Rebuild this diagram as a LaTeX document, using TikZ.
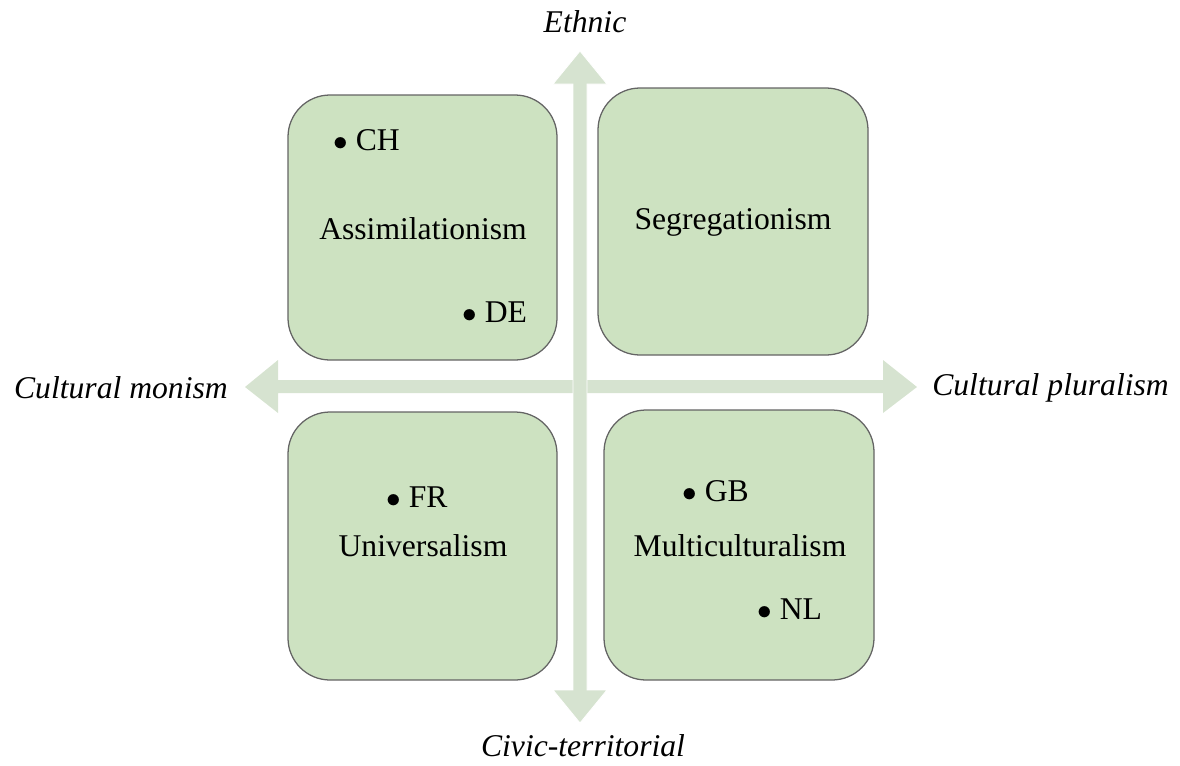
\documentclass[tikz,border=0pt]{standalone}
\usepackage{fontspec}
\setmainfont{Liberation Serif}
\usepackage{tikz}
\usetikzlibrary{calc}

\definecolor{boxgreen}{RGB}{205,226,193}
\definecolor{axisgreen}{RGB}{214,227,208}
\definecolor{boxline}{RGB}{100,100,100}

\tikzset{
    box/.style={draw=boxline, line width=0.9pt, fill=boxgreen, rounded corners=1.05cm},
    axisarrow/.style={fill=axisgreen, draw=white, line width=0.6pt},
    lbl/.style={font=\fontsize{22.5}{27}\selectfont, inner sep=0pt},
    axlbl/.style={lbl, font=\fontsize{22.5}{27}\selectfont\itshape}
}

\begin{document}
\begin{tikzpicture}[x=0.025cm, y=-0.025cm]
    \useasboundingbox (0,0) rectangle (1180,765);

    % asse orizzontale
    \fill[axisgreen] (278,380) -- (883,380) -- (883,360) -- (917,387) -- (883,413)
        -- (883,393) -- (278,393) -- (278,413) -- (245,387) -- (278,360) -- cycle;

    % asse verticale
    \draw[axisarrow] (573,84) -- (553,84) -- (580,51) -- (607,84) -- (587,84)
        -- (587,690) -- (607,690) -- (580,723) -- (553,690) -- (573,690) -- cycle;

    % riquadri
    \draw[box] (288,95) rectangle (557,360);
    \draw[box] (598,88) rectangle (868,355);
    \draw[box] (288,412) rectangle (557,680);
    \draw[box] (604,410) rectangle (874,680);

    % etichette degli assi
    \node[axlbl] (ethnic) at (585,22) {Ethnic};
    \node[axlbl, anchor=east] (monism) at (228,388) {Cultural monism};
    \node[axlbl, anchor=west] (pluralism) at (932,388) {Cultural pluralism};
    \node[axlbl] (civic) at (583,746) {Civic-territorial};

    % modelli
    \node[lbl] (assim) at (423,229) {Assimilationism};
    \node[lbl] (segr) at (733,222) {Segregationism};
    \node[lbl] (univ) at (423,546) {Universalism};
    \node[lbl] (multi) at (740,546) {Multiculturalism};

    % paesi
    \node[lbl, anchor=west] (ch) at (333,140) {$\bullet$\ CH};
    \node[lbl, anchor=west] (de) at (462,312) {$\bullet$\ DE};
    \node[lbl, anchor=west] (fr) at (386,497) {$\bullet$\ FR};
    \node[lbl, anchor=west] (gb) at (682,491) {$\bullet$\ GB};
    \node[lbl, anchor=west] (nl) at (757,609) {$\bullet$\ NL};
\end{tikzpicture}
\end{document}
